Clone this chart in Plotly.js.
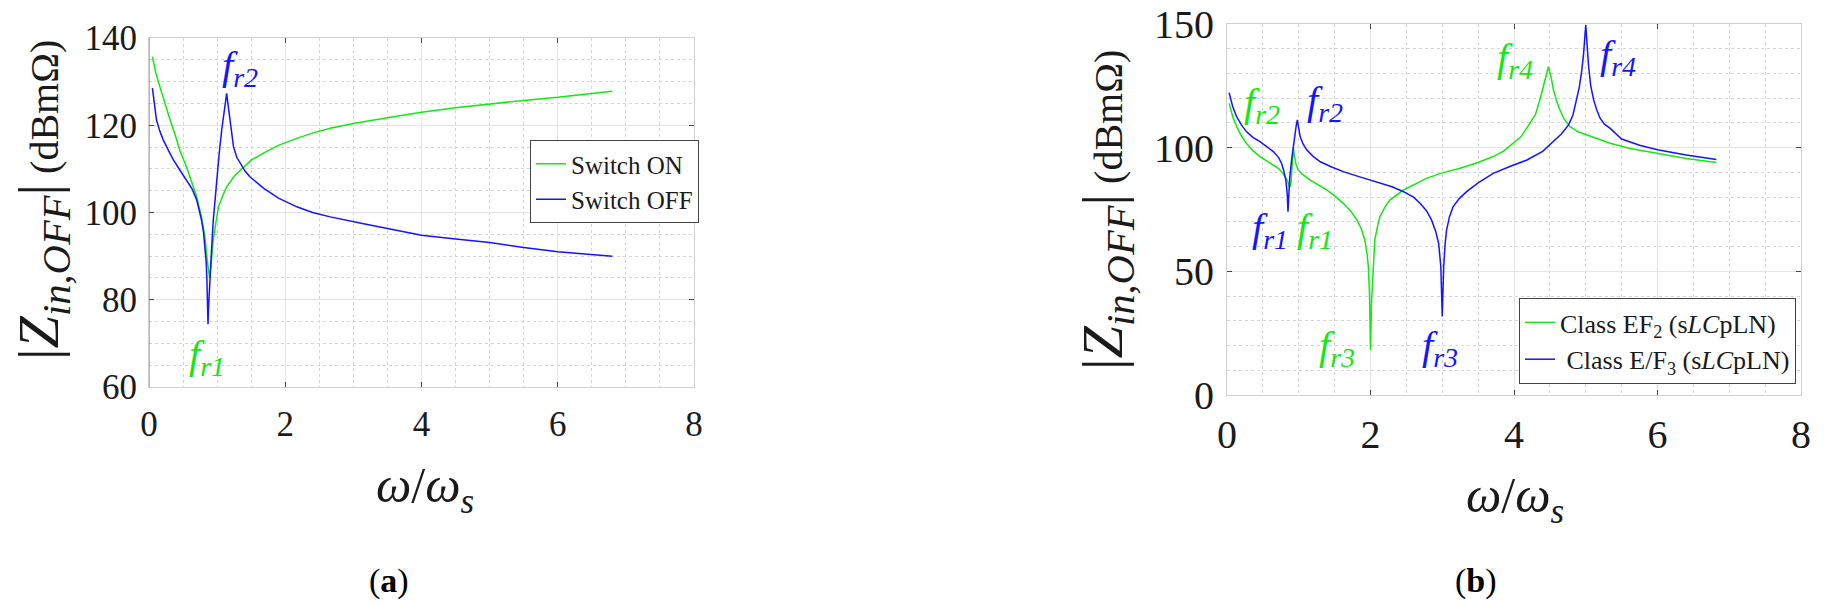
<!DOCTYPE html>
<html>
<head>
<meta charset="utf-8">
<script src="https://cdn.plot.ly/plotly-3.0.1.min.js"></script>
<style>
html,body{margin:0;padding:0;background:#fff;}
#chart{width:1828px;height:604px;}
</style>
</head>
<body>
<div id="chart"></div>
<script>
// ---------- Data ----------
// Panel (a): Switch ON
const onX = [0.05,0.1,0.16,0.25,0.31,0.4,0.45,0.55,0.6,0.7,0.77,0.82,0.855,0.875,0.89,0.905,0.92,0.944,0.98,1.02,1.08,1.14,1.25,1.39,1.5,1.68,1.9,2.17,2.4,2.66,3.0,3.5,4.0,4.5,5.0,5.5,6.0,6.4,6.8];
const onY = [135.7,132.0,128.8,124.0,121.2,117.0,114.3,110.5,108.2,103.6,99.0,94.5,89.1,86.0,85.0,87.0,90.0,93.7,97.5,101.3,103.8,105.9,108.3,110.5,112.0,113.6,115.4,117.0,118.2,119.3,120.4,121.7,123.0,124.0,124.9,125.7,126.4,127.1,127.8];
// Panel (a): Switch OFF
const offX = [0.05,0.08,0.11,0.16,0.21,0.3,0.36,0.45,0.55,0.63,0.70,0.77,0.80,0.82,0.84,0.85,0.86,0.866,0.875,0.89,0.90,0.92,0.944,0.97,0.99,1.03,1.067,1.10,1.13,1.14,1.16,1.19,1.24,1.29,1.34,1.41,1.48,1.58,1.68,1.9,2.17,2.4,2.66,3.15,3.64,4.0,4.5,5.0,5.5,6.0,6.4,6.8];
const offY = [128.5,124.5,121.2,118.6,116.6,113.8,112.0,109.8,107.5,105.5,102.9,98.3,95.5,92.2,88.5,84.5,79.5,74.4,78.5,84.0,86.1,92.0,98.3,103.5,107.5,113.5,118.9,123.0,126.0,127.3,124.8,121.2,115.1,112.6,111.3,109.5,108.2,106.8,105.6,103.3,101.3,100.0,99.0,97.4,96.0,94.8,93.9,93.1,92.0,91.0,90.5,90.0];
// Panel (b): Class EF2 (sLCpLN)
const ef2X = [0.03,0.08,0.135,0.2,0.27,0.36,0.46,0.55,0.645,0.72,0.76,0.80,0.84,0.86,0.875,0.89,0.905,0.925,0.94,0.96,0.99,1.05,1.16,1.27,1.39,1.5,1.62,1.72,1.81,1.87,1.92,1.95,1.97,1.985,2.0,2.015,2.03,2.06,2.1,2.13,2.2,2.27,2.46,2.78,3.0,3.25,3.5,3.71,3.85,3.99,4.1,4.22,4.3,4.36,4.43,4.48,4.52,4.55,4.6,4.64,4.7,4.78,4.9,5.01,5.34,5.6,6.0,6.4,6.82];
const ef2Y = [117.9,112.5,108.5,104.8,101.8,98.8,96.4,94.8,93.0,91.5,90.3,88.8,86.9,85.0,84.0,85.0,90.0,100.0,96.5,93.5,91.0,89.3,86.9,84.9,82.9,80.5,77.5,74.5,70.8,67.3,62.7,57.5,51.9,42.0,18.2,38.0,45.2,62.7,68.5,72.1,76.0,78.8,82.9,87.6,89.8,91.7,94.0,96.4,98.5,101.8,104.5,109.8,113.5,119.3,127.4,132.7,128.0,123.3,118.5,115.2,111.5,108.5,106.3,105.1,101.8,99.8,97.6,95.6,94.0];
// Panel (b): Class E/F3 (sLCpLN)
const ef3X = [0.03,0.08,0.135,0.2,0.27,0.36,0.46,0.55,0.645,0.72,0.76,0.79,0.82,0.84,0.85,0.86,0.875,0.90,0.925,0.948,0.965,0.98,1.0,1.02,1.06,1.11,1.2,1.30,1.45,1.62,1.85,2.09,2.3,2.46,2.6,2.69,2.78,2.85,2.91,2.95,2.98,3.0,3.02,3.04,3.06,3.1,3.15,3.24,3.34,3.5,3.71,3.95,4.18,4.4,4.55,4.66,4.76,4.82,4.87,4.91,4.94,4.97,5.0,5.02,5.04,5.07,5.11,5.15,5.2,5.26,5.34,5.5,5.75,6.0,6.4,6.82];
const ef3Y = [122.2,116.5,112.5,109.2,106.5,104.2,102.4,100.5,98.4,96.0,93.7,90.8,86.9,81.0,74.1,80.0,88.0,95.0,101.0,105.8,109.0,111.2,107.5,104.4,101.5,99.1,96.5,94.3,92.3,90.3,88.2,86.2,84.2,82.2,80.0,77.5,74.5,70.8,66.0,61.3,51.9,31.7,51.9,61.0,66.7,72.0,76.1,79.5,82.2,85.8,89.6,92.5,95.0,98.5,102.4,105.5,109.2,113.0,119.3,124.5,130.1,138.0,149.6,140.0,132.7,125.0,119.3,115.5,111.9,109.5,107.8,103.5,101.0,99.2,97.0,95.2];

// Tick labels
const xTicks = [0,2,4,6,8];
const yTicksA = [60,80,100,120,140];
const yTicksB = [0,50,100,150];

// Resonance labels: [subscript, x, y, colour key]
const labelsA = [
  ['r2', 1.34, 133.1, 'off'],
  ['r1', 0.85, 66.9, 'on']
];
const labelsB = [
  ['r2', 0.49, 117.3, 'on'],
  ['r2', 1.37, 118.1, 'off'],
  ['r1', 0.60, 66.7, 'off'],
  ['r1', 1.23, 66.7, 'on'],
  ['r3', 1.53, 19.0, 'on'],
  ['r3', 2.97, 19.0, 'off'],
  ['r4', 4.01, 135.4, 'on'],
  ['r4', 5.45, 136.7, 'off']
];

// ---------- Styling ----------
const GREEN = '#12e812';
const BLUE = '#1414ff';
const COL = {on: GREEN, off: BLUE};
const SERIF = 'Liberation Serif';
const W = 1828, H = 604;
const px = v => v / W;
const py = v => 1 - v / H;

const traces = [
  {x: onX, y: onY, type: 'scatter', mode: 'lines', name: 'Switch ON',
   line: {color: GREEN, width: 1.5}, xaxis: 'x', yaxis: 'y', legend: 'legend'},
  {x: offX, y: offY, type: 'scatter', mode: 'lines', name: 'Switch OFF',
   line: {color: BLUE, width: 1.5}, xaxis: 'x', yaxis: 'y', legend: 'legend'},
  {x: ef2X, y: ef2Y, type: 'scatter', mode: 'lines', name: 'Class EF<sub>2</sub> (s<i>LC</i>pLN)',
   line: {color: GREEN, width: 1.5}, xaxis: 'x2', yaxis: 'y2', legend: 'legend2'},
  {x: ef3X, y: ef3Y, type: 'scatter', mode: 'lines', name: ' Class E/F<sub>3</sub> (s<i>LC</i>pLN)',
   line: {color: BLUE, width: 1.5}, xaxis: 'x2', yaxis: 'y2', legend: 'legend2'}
];

function axisBase(fontSize) {
  return {
    showgrid: true, gridcolor: '#e4e4e4', gridwidth: 1,
    zeroline: false, showline: true, linecolor: '#cfcfcf', linewidth: 1,
    mirror: 'ticks', ticks: 'inside', ticklen: 5, tickcolor: '#444', tickwidth: 1,
    tickfont: {family: SERIF, size: fontSize, color: '#1a1a1a'},
    automargin: false, fixedrange: true
  };
}

const xaxis = Object.assign(axisBase(35), {
  domain: [px(149), px(694)], anchor: 'y', range: [0, 8],
  tickvals: xTicks, ticktext: xTicks.map(String), ticklabelstandoff: 6,
  minor: {dtick: 0.5, showgrid: true, gridcolor: '#d6d6d6', griddash: 'dot', gridwidth: 1}
});
const yaxis = Object.assign(axisBase(35), {
  domain: [py(387), py(38)], anchor: 'x', range: [60, 140],
  tickvals: yTicksA, ticktext: yTicksA.map(String), ticklabelstandoff: 4,
  minor: {dtick: 5, showgrid: true, gridcolor: '#d6d6d6', griddash: 'dot', gridwidth: 1}
});
const xaxis2 = Object.assign(axisBase(40), {
  domain: [px(1227), px(1801)], anchor: 'y2', range: [0, 8],
  tickvals: xTicks, ticktext: xTicks.map(String), ticklabelstandoff: 4,
  minor: {dtick: 0.5, showgrid: true, gridcolor: '#d6d6d6', griddash: 'dot', gridwidth: 1}
});
const yaxis2 = Object.assign(axisBase(40), {
  domain: [py(395), py(24)], anchor: 'x2', range: [0, 150],
  tickvals: yTicksB, ticktext: yTicksB.map(String), ticklabelstandoff: 4,
  minor: {dtick: 10, showgrid: true, gridcolor: '#d6d6d6', griddash: 'dot', gridwidth: 1}
});

const annotations = [];
function resLabel(sub, x, y, key, xr, yr, size) {
  annotations.push({
    text: '<i>f</i><sub><i>' + sub + '</i></sub>', x: x, y: y, xref: xr, yref: yr,
    showarrow: false, xanchor: 'center', yanchor: 'middle',
    font: {family: SERIF, size: size, color: COL[key]}
  });
}
labelsA.forEach(l => resLabel(l[0], l[1], l[2], l[3], 'x', 'y', 40));
labelsB.forEach(l => resLabel(l[0], l[1], l[2], l[3], 'x2', 'y2', 40));

const yTitle = '<span style="font-size:58px">|<i>Z</i><sub><i>in,OFF</i></sub>|</span> (dBmΩ)';
const xTitle = '<i>ω</i>/<i>ω</i><sub><i>s</i></sub>';
annotations.push(
  {text: yTitle, xref: 'paper', yref: 'paper', x: px(42), y: py(200), textangle: -90,
   showarrow: false, xanchor: 'center', yanchor: 'middle', font: {family: SERIF, size: 40, color: '#1a1a1a'}},
  {text: yTitle, xref: 'paper', yref: 'paper', x: px(1106), y: py(210), textangle: -90,
   showarrow: false, xanchor: 'center', yanchor: 'middle', font: {family: SERIF, size: 40, color: '#1a1a1a'}},
  {text: xTitle, xref: 'paper', yref: 'paper', x: px(425), y: py(489),
   showarrow: false, xanchor: 'center', yanchor: 'middle', font: {family: SERIF, size: 50, color: '#1a1a1a'}},
  {text: xTitle, xref: 'paper', yref: 'paper', x: px(1515), y: py(499),
   showarrow: false, xanchor: 'center', yanchor: 'middle', font: {family: SERIF, size: 50, color: '#1a1a1a'}},
  {text: '(<b>a</b>)', xref: 'paper', yref: 'paper', x: px(389), y: py(581),
   showarrow: false, xanchor: 'center', yanchor: 'middle', font: {family: SERIF, size: 34, color: '#000'}},
  {text: '(<b>b</b>)', xref: 'paper', yref: 'paper', x: px(1476), y: py(581),
   showarrow: false, xanchor: 'center', yanchor: 'middle', font: {family: SERIF, size: 34, color: '#000'}}
);

const layout = {
  width: W, height: H,
  font: {family: SERIF},
  margin: {l: 0, r: 0, t: 0, b: 0, autoexpand: false},
  paper_bgcolor: '#fff', plot_bgcolor: '#fff',
  showlegend: true,
  xaxis: xaxis, yaxis: yaxis, xaxis2: xaxis2, yaxis2: yaxis2,
  legend: {x: px(530), y: py(140), xanchor: 'left', yanchor: 'top',
    bgcolor: '#fff', bordercolor: '#444', borderwidth: 1,
    font: {family: SERIF, size: 25, color: '#1a1a1a'},
    itemwidth: 30, tracegroupgap: 0},
  legend2: {x: px(1519), y: py(298), xanchor: 'left', yanchor: 'top',
    bgcolor: '#fff', bordercolor: '#444', borderwidth: 1,
    font: {family: SERIF, size: 26, color: '#1a1a1a'},
    itemwidth: 30, tracegroupgap: 0},
  shapes: [
    {type: 'line', xref: 'x', yref: 'y domain', x0: 0, x1: 0, y0: 0, y1: 1,
     line: {color: '#6a6a6a', width: 1}}
  ],
  annotations: annotations
};

Plotly.newPlot('chart', traces, layout, {staticPlot: true, displayModeBar: false});
</script>
</body>
</html>
